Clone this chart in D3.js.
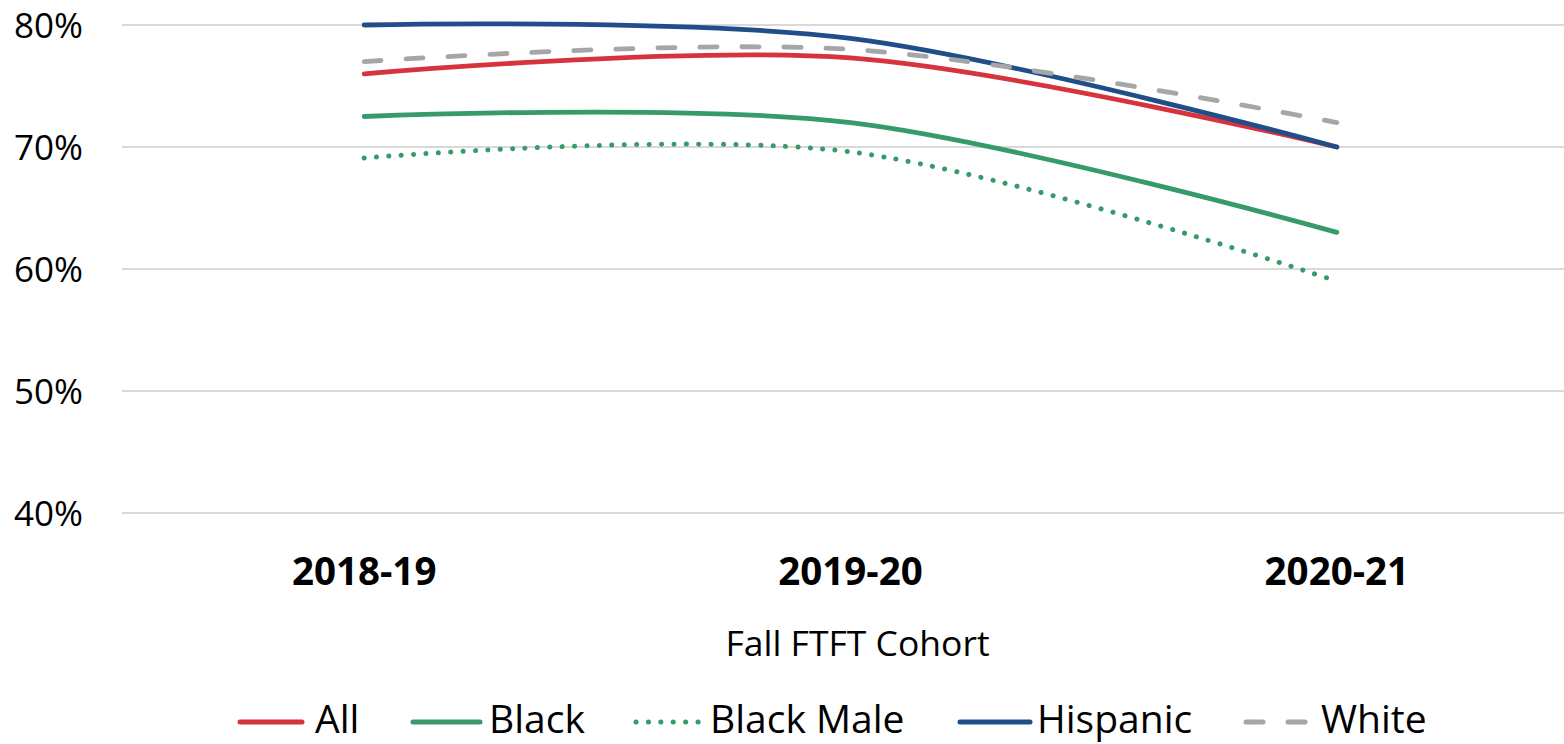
<!DOCTYPE html>
<html>
<head>
<meta charset="utf-8">
<script src="https://cdn.jsdelivr.net/npm/d3@7"></script>
<style>
  html, body { margin: 0; padding: 0; background: #fff; }
  svg { display: block; font-family: "Open Sans", "Noto Sans", sans-serif; }
</style>
</head>
<body>
<svg id="chart" width="1564" height="744"></svg>
<script>
// Fall first-time full-time cohorts
const cohorts = ["2018-19", "2019-20", "2020-21"];

// Rates by group, one value per cohort
const allStudents = [0.760, 0.773, 0.700];
const black       = [0.725, 0.720, 0.630];
const blackMale   = [0.691, 0.696, 0.590];
const hispanic    = [0.800, 0.789, 0.700];
const white       = [0.770, 0.780, 0.720];

const yTicks = [0.4, 0.5, 0.6, 0.7, 0.8];

const seriesNames = ["All", "Black", "Black Male", "Hispanic", "White"];
const seriesValues = [allStudents, black, blackMale, hispanic, white];
const seriesStyle = [
  { color: "#d7333d", dash: null },
  { color: "#369a69", dash: null },
  { color: "#369a69", dash: "0.1 12.3" },
  { color: "#1f4e89", dash: null },
  { color: "#a6a6a6", dash: "17 25" }
];

const svg = d3.select("#chart");
const W = 1564;

// Plot area
const plot = { left: 121, right: 1580, top: 25, bottom: 513 };

const x = d3.scaleBand().domain(cohorts).range([plot.left, plot.right]).padding(0);
const y = d3.scaleLinear().domain([0.4, 0.8]).range([plot.bottom, plot.top]);
const cx = d => x(d) + x.bandwidth() / 2;

// Horizontal gridlines
svg.append("g")
  .selectAll("line")
  .data(yTicks)
  .join("line")
  .attr("x1", plot.left + 1)
  .attr("x2", W)
  .attr("y1", d => y(d))
  .attr("y2", d => y(d))
  .attr("stroke", "#d9d9d9")
  .attr("stroke-width", 2);

// Y axis labels
const yAxis = d3.axisLeft(y).tickValues(yTicks).tickFormat(d3.format(".0%")).tickSize(0).tickPadding(0);
const yg = svg.append("g").attr("transform", `translate(83,0)`).call(yAxis);
yg.select(".domain").remove();
yg.selectAll("text")
  .attr("font-size", 35)
  .attr("font-family", "'Open Sans', sans-serif")
  .attr("fill", "#000")
  .attr("dy", "0.36em");

// X axis category labels
const xAxis = d3.axisBottom(x).tickSize(0).tickPadding(0);
const xg = svg.append("g").attr("transform", `translate(0,585)`).call(xAxis);
xg.select(".domain").remove();
xg.selectAll("text")
  .attr("font-size", 38.5)
  .attr("font-weight", "bold")
  .attr("font-family", "'Open Sans', sans-serif")
  .attr("fill", "#000")
  .attr("dy", 0)
  .attr("y", 0);

// X axis title
svg.append("text")
  .attr("x", (plot.left + W) / 2 + 15)
  .attr("y", 656)
  .attr("text-anchor", "middle")
  .attr("font-size", 35.5)
  .attr("fill", "#000")
  .text("Fall FTFT Cohort");

// Lines
const line = d3.line()
  .x((d, i) => cx(cohorts[i]))
  .y(d => y(d))
  .curve(d3.curveCardinal.tension(0));

seriesValues.forEach((vals, i) => {
  const st = seriesStyle[i];
  svg.append("path")
    .datum(vals)
    .attr("d", line)
    .attr("fill", "none")
    .attr("stroke", st.color)
    .attr("stroke-width", st.dash && st.dash.startsWith("0.1") ? 5 : 4.8)
    .attr("stroke-linecap", "round")
    .attr("stroke-linejoin", "round")
    .attr("stroke-dasharray", st.dash);
});

// Legend
const legendItems = [
  { name: seriesNames[0], x1: 240, x2: 302, tx: 315 },
  { name: seriesNames[1], x1: 413, x2: 480, tx: 489 },
  { name: seriesNames[2], x1: 636, x2: 700, tx: 710 },
  { name: seriesNames[3], x1: 960, x2: 1030, tx: 1037 },
  { name: seriesNames[4], x1: 1246, x2: 1310, tx: 1321 }
];
const lg = svg.append("g");
legendItems.forEach((it, i) => {
  const st = seriesStyle[i];
  lg.append("line")
    .attr("x1", it.x1).attr("x2", it.x2)
    .attr("y1", 722).attr("y2", 722)
    .attr("stroke", st.color)
    .attr("stroke-width", 5)
    .attr("stroke-linecap", "round")
    .attr("stroke-dasharray", st.dash);
  lg.append("text")
    .attr("x", it.tx)
    .attr("y", 733)
    .attr("font-size", 39)
    .attr("fill", "#000")
    .text(it.name);
});
</script>
</body>
</html>
